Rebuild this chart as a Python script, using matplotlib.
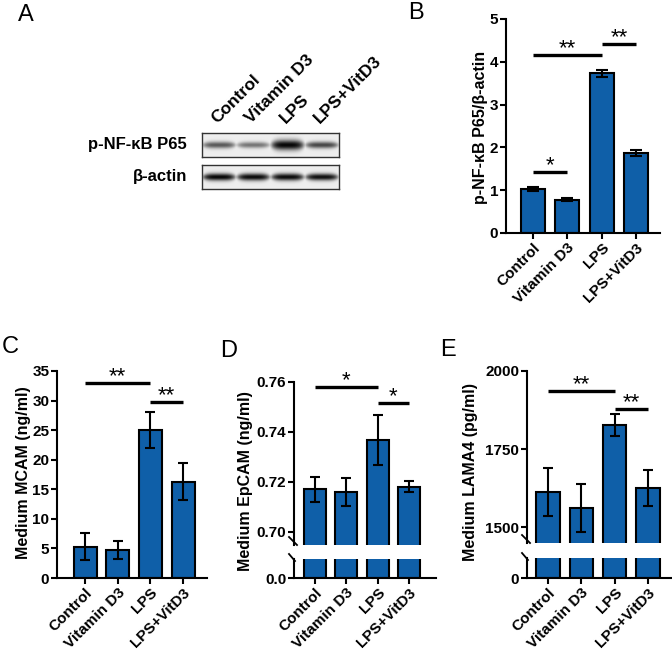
#!/usr/bin/env python3
"""
NF-kB blot + ELISA bar panels (A-E), redrawn with matplotlib.
"""

import numpy as np
import matplotlib
matplotlib.use("Agg")
import matplotlib.pyplot as plt
from matplotlib.transforms import blended_transform_factory

plt.rcParams['font.family'] = ['Liberation Sans', 'DejaVu Sans']
plt.rcParams['font.weight'] = 'bold'

W, H = 672, 653
BLUE = '#0f5fa8'
TICK_FS = 11
LABEL_FS = 11.5

groups = ['Control', 'Vitamin D3', 'LPS', 'LPS+VitD3']

# panel A: band darkness and thickness per lane
p65_dark = [0.62, 0.50, 0.97, 0.70]
p65_thick = [2.4, 2.2, 3.6, 2.4]
actin_dark = [0.97, 0.95, 0.95, 0.93]
actin_thick = [2.6, 2.6, 2.6, 2.5]

# panel B
b_mean = [1.02, 0.78, 3.73, 1.88]
b_err = [0.05, 0.04, 0.09, 0.07]

# panel C
c_mean = [5.3, 4.7, 25.0, 16.3]
c_err = [2.3, 1.5, 3.1, 3.1]

# panel D
d_mean = [0.717, 0.716, 0.7367, 0.718]
d_err = [0.005, 0.0057, 0.010, 0.0022]

# panel E
e_mean = [1612, 1561, 1827, 1625]
e_err = [78, 77, 35, 57]


def rect(l, r, top, bottom):
    return [l / W, 1 - bottom / H, (r - l) / W, (bottom - top) / H]


def style_axes(ax, xlim):
    for s in ['top', 'right']:
        ax.spines[s].set_visible(False)
    for s in ['left', 'bottom']:
        ax.spines[s].set_linewidth(1.5)
    ax.tick_params(width=1.5, length=4, labelsize=TICK_FS, pad=1.5)
    ax.set_xlim(*xlim)
    ax.patch.set_alpha(0)


def xlabels(ax):
    ax.set_xticks(range(4))
    ax.set_xticklabels(groups, rotation=45, ha='right', rotation_mode='anchor',
                       fontsize=TICK_FS)


def ylabel(text, x, y):
    fig.text(x / W, 1 - y / H, text, rotation=90, ha='center', va='center',
             fontsize=LABEL_FS)


def bars(ax, mean, err, cap=3.5):
    x = np.arange(len(mean))
    ax.bar(x, mean, width=0.7, color=BLUE, edgecolor='black', linewidth=1.5, zorder=2)
    ax.errorbar(x, mean, yerr=err, fmt='none', ecolor='black', elinewidth=1.5,
                capsize=cap, capthick=1.5, zorder=3)


def sig(ax, i, j, y, txt):
    ax.plot([i, j], [y, y], color='black', lw=2.4, solid_capstyle='butt', clip_on=False)
    ax.annotate(txt, ((i + j) / 2, y), xytext=(0, -3), textcoords='offset points',
                ha='center', va='bottom', fontsize=16, fontweight='normal')


def broken(l, r, top, brk_top, brk_bot, bottom, xlim, ylim_up, zero_label):
    up = fig.add_axes(rect(l, r, top, brk_top))
    lo = fig.add_axes(rect(l, r, brk_bot, bottom))
    style_axes(up, xlim)
    style_axes(lo, xlim)
    up.spines['bottom'].set_visible(False)
    up.tick_params(axis='x', bottom=False, labelbottom=False)
    up.set_ylim(*ylim_up)
    lo.set_ylim(0, 1)
    lo.set_yticks([0])
    lo.set_yticklabels([zero_label])
    # break marks across the y spine
    kw = dict(color='black', lw=1.3, clip_on=False)
    fig.add_artist(plt.Line2D([(l - 5) / W, (l + 3) / W],
                              [1 - (brk_top - 8) / H, 1 - brk_top / H], **kw))
    fig.add_artist(plt.Line2D([(l - 5) / W, (l + 1) / W],
                              [1 - (brk_bot - 5) / H, 1 - (brk_bot + 2) / H], **kw))
    return up, lo


def band_image(dark, thick, w=137, h=24):
    xs = np.arange(w)[None, :] + 0.5
    ys = np.arange(h)[:, None] + 0.5
    img = np.full((h, w), 0.93)
    lane_w = w / len(dark)
    for k, (d, t) in enumerate(zip(dark, thick)):
        xc = lane_w * (k + 0.5)
        u = (xs - xc) / (lane_w * 0.52)
        hx = np.clip(1 - u ** 4, 0, 1)
        # band gets thinner towards its ends
        tt = t * (0.55 + 0.45 * hx)
        vy = np.exp(-0.5 * ((ys - h / 2) / tt) ** 2)
        img = img - d * 0.93 * hx * vy
    return np.clip(img, 0, 1)


fig = plt.figure(figsize=(W / 100, H / 100), dpi=100)

# ---- panel A: blot ----
for (top, bot), dark, thick, name in [((133, 157), p65_dark, p65_thick, 'p-NF-κB P65'),
                                      ((165, 189), actin_dark, actin_thick, 'β-actin')]:
    ax = fig.add_axes(rect(202, 339, top, bot))
    ax.imshow(band_image(dark, thick), cmap='gray', vmin=0, vmax=1,
              aspect='auto', extent=[0, 4, 0, 1], interpolation='bicubic')
    ax.set_xticks([])
    ax.set_yticks([])
    for s in ax.spines.values():
        s.set_linewidth(1.0)
        s.set_color('#333333')
    ax.text(-0.11, 0.5, name, transform=ax.transAxes, ha='right', va='center',
            fontsize=12)
    if name.startswith('p-NF'):
        tr = blended_transform_factory(ax.transData, ax.transAxes)
        for k, g in enumerate(groups):
            ax.text(k + 0.5, 1.3, g, transform=tr, rotation=45, rotation_mode='anchor',
                    ha='left', va='bottom', fontsize=12.5)

# ---- panel B ----
axb = fig.add_axes(rect(506, 660, 19, 233))
bars(axb, b_mean, b_err, cap=4.5)
axb.set_ylim(0, 5)
axb.set_yticks(range(6))
style_axes(axb, (-0.79, 3.70))
xlabels(axb)
ylabel('p-NF-κB P65/β-actin', 481, 127)
sig(axb, 0, 1, 1.42, '*')
sig(axb, 0, 2, 4.16, '**')
sig(axb, 2, 3, 4.42, '**')

# ---- panel C ----
axc = fig.add_axes(rect(57, 207, 371, 578))
bars(axc, c_mean, c_err)
axc.set_ylim(0, 35)
axc.set_yticks(range(0, 36, 5))
style_axes(axc, (-0.86, 3.73))
xlabels(axc)
ylabel('Medium MCAM (ng/ml)', 24, 473)
sig(axc, 0, 2, 33.0, '**')
sig(axc, 2, 3, 29.8, '**')

# ---- panel D ----
upd, lod = broken(294, 436, 382, 545, 559, 578, (-0.67, 3.86), (0.6948, 0.76), '0.0')
bars(upd, d_mean, d_err)
upd.set_yticks([0.70, 0.72, 0.74, 0.76])
upd.set_yticklabels(['0.70', '0.72', '0.74', '0.76'])
lod.bar(range(4), [2] * 4, width=0.7, color=BLUE, edgecolor='black', linewidth=1.5)
lod.set_ylim(0, 1)
xlabels(lod)
sig(upd, 0, 2, 0.7581, '*')
sig(upd, 2, 3, 0.7515, '*')
ylabel('Medium EpCAM (ng/ml)', 246, 481)

# ---- panel E ----
upe, loe = broken(527, 672, 371, 543, 558, 578, (-0.63, 3.72), (1449, 2000), '0')
bars(upe, e_mean, e_err)
upe.set_yticks([1500, 1750, 2000])
upe.set_yticklabels(['1500', '1750', '2000'])
loe.bar(range(4), [2] * 4, width=0.7, color=BLUE, edgecolor='black', linewidth=1.5)
loe.set_ylim(0, 1)
xlabels(loe)
sig(upe, 0, 2, 1937, '**')
sig(upe, 2, 3, 1878, '**')
ylabel('Medium LAMA4 (pg/ml)', 471, 472)

# panel letters
for letter, x, y in [('A', 18, 4), ('B', 408, 2), ('C', 2, 336), ('D', 220, 340), ('E', 440, 339)]:
    fig.text(x / W, 1 - y / H, letter, ha='left', va='top', fontsize=17,
             fontweight='normal')

fig.savefig('out.png', dpi=100)
